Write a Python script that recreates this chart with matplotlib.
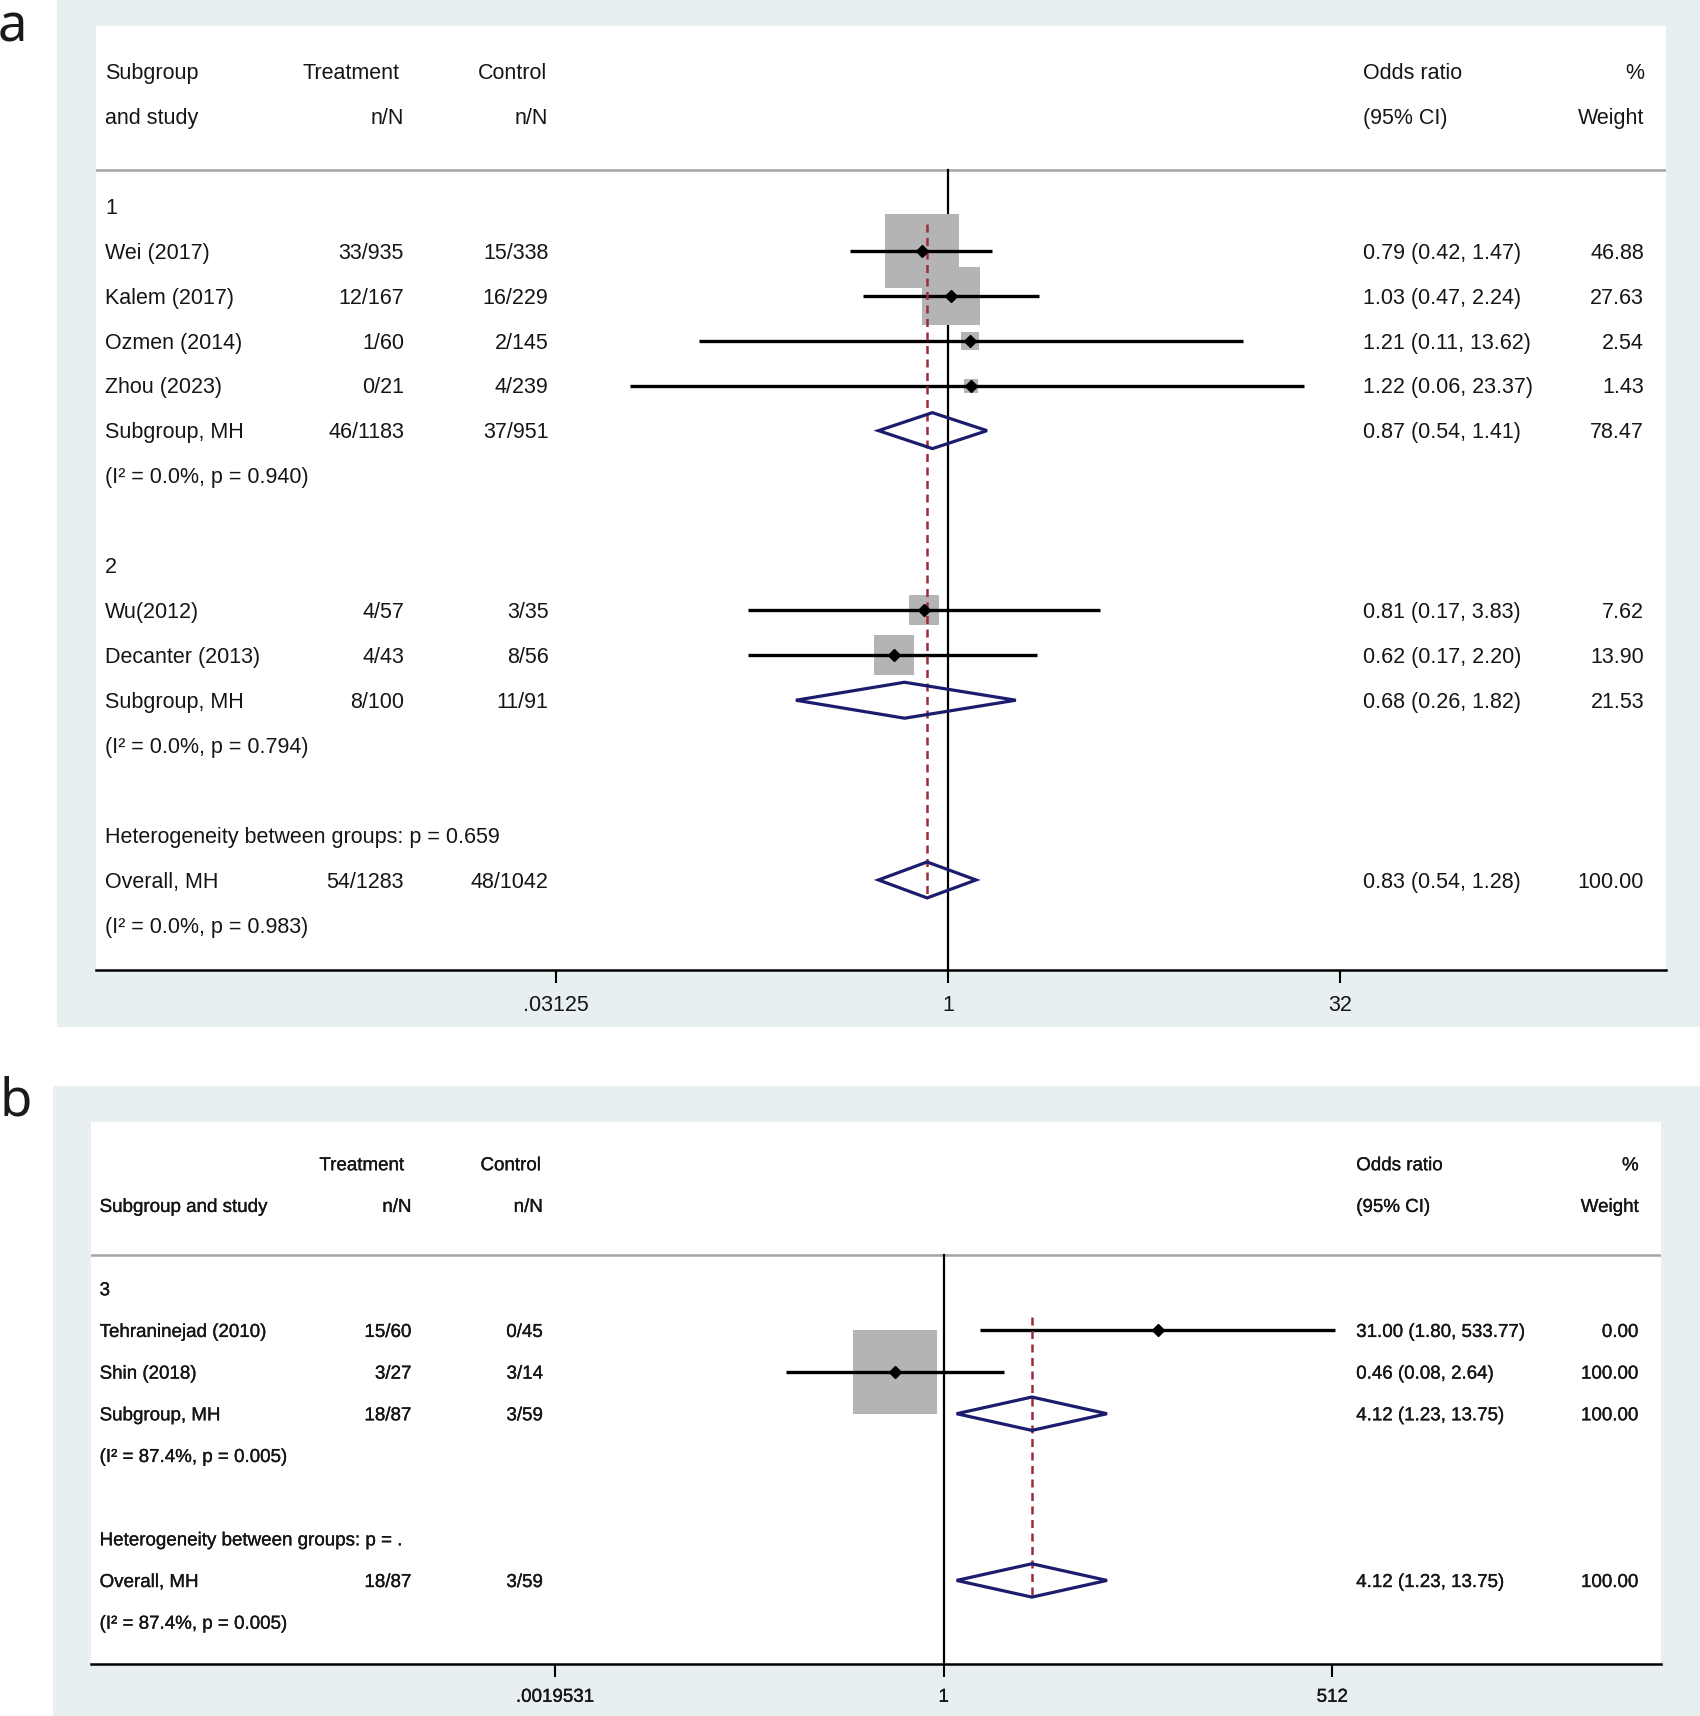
import numpy as np
import matplotlib
matplotlib.use('Agg')
import matplotlib.pyplot as plt
import matplotlib.patheffects as pe
from matplotlib.patches import Rectangle, Polygon
from matplotlib.transforms import blended_transform_factory
from matplotlib.ticker import NullLocator, FixedLocator, FixedFormatter

plt.rcParams['font.family'] = ['Liberation Sans', 'DejaVu Sans']

# ---------------- Panel a data ----------------
a_groups = ["1", "2"]
a_studies = ["Wei (2017)", "Kalem (2017)", "Ozmen (2014)", "Zhou (2023)", "Wu(2012)", "Decanter (2013)"]
a_study_group = [0, 0, 0, 0, 1, 1]
a_treat = ["33/935", "12/167", "1/60", "0/21", "4/57", "4/43"]
a_ctrl = ["15/338", "16/229", "2/145", "4/239", "3/35", "8/56"]
a_or = [0.79, 1.03, 1.21, 1.22, 0.81, 0.62]
a_lo = [0.42, 0.47, 0.11, 0.06, 0.17, 0.17]
a_hi = [1.47, 2.24, 13.62, 23.37, 3.83, 2.20]
a_wt = [46.88, 27.63, 2.54, 1.43, 7.62, 13.90]
a_sub_treat = ["46/1183", "8/100"]
a_sub_ctrl = ["37/951", "11/91"]
a_sub_or = [0.87, 0.68]
a_sub_lo = [0.54, 0.26]
a_sub_hi = [1.41, 1.82]
a_sub_wt = [78.47, 21.53]
a_sub_het = ["(I² = 0.0%, p = 0.940)", "(I² = 0.0%, p = 0.794)"]
a_between = "Heterogeneity between groups: p = 0.659"
a_ov_treat, a_ov_ctrl = "54/1283", "48/1042"
a_ov_or, a_ov_lo, a_ov_hi, a_ov_wt = 0.83, 0.54, 1.28, 100.00
a_ov_het = "(I² = 0.0%, p = 0.983)"
a_ticks = [2.0 ** -5, 1.0, 2.0 ** 5]
a_ticklabels = [".03125", "1", "32"]
a_header = [["Subgroup", "Treatment", "Control", "Odds ratio", "%"],
            ["and study", "n/N", "n/N", "(95% CI)", "Weight"]]

# ---------------- Panel b data ----------------
b_groups = ["3"]
b_studies = ["Tehraninejad (2010)", "Shin (2018)"]
b_study_group = [0, 0]
b_treat = ["15/60", "3/27"]
b_ctrl = ["0/45", "3/14"]
b_or = [31.00, 0.46]
b_lo = [1.80, 0.08]
b_hi = [533.77, 2.64]
b_wt = [0.00, 100.00]
b_sub_treat = ["18/87"]
b_sub_ctrl = ["3/59"]
b_sub_or = [4.12]
b_sub_lo = [1.23]
b_sub_hi = [13.75]
b_sub_wt = [100.00]
b_sub_het = ["(I² = 87.4%, p = 0.005)"]
b_between = "Heterogeneity between groups: p = ."
b_ov_treat, b_ov_ctrl = "18/87", "3/59"
b_ov_or, b_ov_lo, b_ov_hi, b_ov_wt = 4.12, 1.23, 13.75, 100.00
b_ov_het = "(I² = 87.4%, p = 0.005)"
b_ticks = [2.0 ** -9, 1.0, 2.0 ** 9]
b_ticklabels = [".0019531", "1", "512"]
b_header = [["", "Treatment", "Control", "Odds ratio", "%"],
            ["Subgroup and study", "n/N", "n/N", "(95% CI)", "Weight"]]

W, H = 1700, 1716
fig = plt.figure(figsize=(W / 100, H / 100), dpi=100)
fig.patch.set_facecolor('white')

BG = '#e8eff1'
BOX = '#b4b4b4'
NAVY = '#1c1c6e'
RED = '#9e2b3b'
TXT = '#151515'
S = 1.0946  # display -> pixel
DY = 0.05   # baseline nudge for table text


def frac_rect(x0, y0, x1, y1):
    return [x0 / W, 1 - y1 / H, (x1 - x0) / W, (y1 - y0) / H]


def panel(bg, white, xl, cols, hcols, fs, header, groups, studies, sgrp, treat, ctrl, orv, lo, hi, wt,
          s_treat, s_ctrl, s_or, s_lo, s_hi, s_wt, s_het, between, ov, ticks, ticklabels,
          box_k, red_span, label, label_xy, stroke):
    fig.patches.append(Rectangle((bg[0] / W, 1 - bg[3] / H), (bg[2] - bg[0]) / W,
                                 (bg[3] - bg[1]) / H, transform=fig.transFigure,
                                 facecolor=BG, edgecolor='none', zorder=0))
    fig.text(label_xy[0] / W, 1 - label_xy[1] / H, label, ha='left', va='baseline',
             fontsize=38, family=['Noto Sans', 'DejaVu Sans'], fontweight='normal',
             color='#1a1a1a')

    effects = [pe.withStroke(linewidth=stroke, foreground=TXT)] if stroke > 0 else None

    # build row layout
    rows = []
    r = 3
    for g, gname in enumerate(groups):
        rows.append(('group', r, g)); r += 1
        for i in range(len(studies)):
            if sgrp[i] == g:
                rows.append(('study', r, i)); r += 1
        rows.append(('sub', r, g)); r += 1
        rows.append(('het', r, g)); r += 2
    rows.append(('between', r, None)); r += 1
    rows.append(('overall', r, None)); r += 1
    rows.append(('ovhet', r, None)); r += 1
    nbottom = r

    ax = fig.add_axes(frac_rect(*white))
    ax.set_facecolor('white')
    ax.set_zorder(1)
    ax.set_xscale('log', base=2)
    ax.set_xlim(2.0 ** xl[0], 2.0 ** xl[1])
    ax.set_ylim(nbottom, -1)
    for sp in ['top', 'left', 'right']:
        ax.spines[sp].set_visible(False)
    ax.spines['bottom'].set_linewidth(1.8)
    ax.spines['bottom'].set_color('black')
    ax.set_yticks([])
    ax.xaxis.set_major_locator(FixedLocator(ticks))
    ax.xaxis.set_major_formatter(FixedFormatter(ticklabels))
    ax.xaxis.set_minor_locator(NullLocator())
    ax.tick_params(axis='x', direction='out', length=9, width=1.5, pad=9,
                   labelsize=fs, labelcolor=TXT)
    if effects:
        for t in ax.get_xticklabels():
            t.set_path_effects(effects)

    tr = blended_transform_factory(ax.transAxes, ax.transData)

    def row_text(y, items, cc=None):
        cc = cc or cols
        for (txt, c) in zip(items, cc):
            if txt:
                ax.text(c[0], y + DY, txt, ha=c[1], va='center', fontsize=fs, color=TXT,
                        transform=tr, clip_on=False, path_effects=effects)

    row_text(0, header[0], hcols)
    row_text(1, header[1])
    ax.axhline(2.2, color='#a5a5a5', lw=1.8, zorder=1)
    ax.plot([1, 1], [2.2, nbottom], color='black', lw=1.6, zorder=2)
    ax.plot([ov[0], ov[0]], [red_span[0], red_span[1]], color=RED, lw=1.8,
            ls=(0, (3.2, 2.2)), zorder=4)

    def diamond(y, o, l, h):
        ax.add_patch(Polygon([[l, y], [o, y - 0.4], [h, y], [o, y + 0.4]], closed=True,
                             fill=False, edgecolor=NAVY, lw=2.3, joinstyle='miter', zorder=5))

    for kind, y, idx in rows:
        if kind == 'group':
            row_text(y, [groups[idx]])
        elif kind == 'study':
            i = idx
            row_text(y, [studies[i], treat[i], ctrl[i],
                         f"{orv[i]:.2f} ({lo[i]:.2f}, {hi[i]:.2f})", f"{wt[i]:.2f}"])
            if wt[i] > 0:
                ax.scatter([orv[i]], [y], marker='s', s=(box_k ** 2) * wt[i], color=BOX,
                           linewidths=0, zorder=2.5)
            ax.plot([lo[i], hi[i]], [y, y], color='black', lw=2.4, zorder=3,
                    solid_capstyle='butt')
            ax.plot([orv[i]], [y], marker='D', ms=6.5, color='black', zorder=6)
        elif kind == 'sub':
            g = idx
            row_text(y, ["Subgroup, MH", s_treat[g], s_ctrl[g],
                         f"{s_or[g]:.2f} ({s_lo[g]:.2f}, {s_hi[g]:.2f})", f"{s_wt[g]:.2f}"])
            diamond(y, s_or[g], s_lo[g], s_hi[g])
        elif kind == 'het':
            row_text(y, [s_het[idx]])
        elif kind == 'between':
            row_text(y, [between])
        elif kind == 'overall':
            row_text(y, ["Overall, MH", ov[4], ov[5],
                         f"{ov[0]:.2f} ({ov[1]:.2f}, {ov[2]:.2f})", f"{ov[3]:.2f}"])
            diamond(y, ov[0], ov[1], ov[2])
        elif kind == 'ovhet':
            row_text(y, [ov[6]])
    return ax


def cfrac(px, x0):
    return (px - x0) / 1434


cols_a = [(cfrac(96, 88), 'left'), (cfrac(369, 88), 'right'), (cfrac(501, 88), 'right'),
          (cfrac(1245, 88), 'left'), (cfrac(1502, 88), 'right')]
hcols_a = [(cfrac(96, 88), 'left'), (cfrac(365, 88), 'right'), (cfrac(500, 88), 'right'),
           (cfrac(1245, 88), 'left'), (cfrac(1502, 88), 'right')]
panel(bg=(52 * S, 0, W, 938 * S), white=(88 * S, 24 * S, 1522 * S, 886 * S),
      xl=(-10.87, 9.16), cols=cols_a, hcols=hcols_a, fs=15.5, header=a_header, groups=a_groups,
      studies=a_studies, sgrp=a_study_group, treat=a_treat, ctrl=a_ctrl, orv=a_or, lo=a_lo,
      hi=a_hi, wt=a_wt, s_treat=a_sub_treat, s_ctrl=a_sub_ctrl, s_or=a_sub_or, s_lo=a_sub_lo,
      s_hi=a_sub_hi, s_wt=a_sub_wt, s_het=a_sub_het, between=a_between,
      ov=(a_ov_or, a_ov_lo, a_ov_hi, a_ov_wt, a_ov_treat, a_ov_ctrl, a_ov_het),
      ticks=a_ticks, ticklabels=a_ticklabels, box_k=7.83, red_span=(3.4, 18.4),
      label='a', label_xy=(-2, 42), stroke=0)

cols_b = [(cfrac(91, 83), 'left'), (cfrac(376, 83), 'right'), (cfrac(496, 83), 'right'),
          (cfrac(1239, 83), 'left'), (cfrac(1497, 83), 'right')]
hcols_b = [(cfrac(91, 83), 'left'), (cfrac(369, 83), 'right'), (cfrac(494, 83), 'right'),
           (cfrac(1239, 83), 'left'), (cfrac(1497, 83), 'right')]
panel(bg=(48 * S, 992 * S, W, H), white=(83 * S, 1025 * S, 1517 * S, 1520 * S),
      xl=(-19.75, 16.6), cols=cols_b, hcols=hcols_b, fs=13.5, header=b_header, groups=b_groups,
      studies=b_studies, sgrp=b_study_group, treat=b_treat, ctrl=b_ctrl, orv=b_or, lo=b_lo,
      hi=b_hi, wt=b_wt, s_treat=b_sub_treat, s_ctrl=b_sub_ctrl, s_or=b_sub_or, s_lo=b_sub_lo,
      s_hi=b_sub_hi, s_wt=b_sub_wt, s_het=b_sub_het, between=b_between,
      ov=(b_ov_or, b_ov_lo, b_ov_hi, b_ov_wt, b_ov_treat, b_ov_ctrl, b_ov_het),
      ticks=b_ticks, ticklabels=b_ticklabels, box_k=6.07, red_span=(3.68, 10.45),
      label='b', label_xy=(0, 1115), stroke=0.22)

fig.savefig('out.png', dpi=100)
